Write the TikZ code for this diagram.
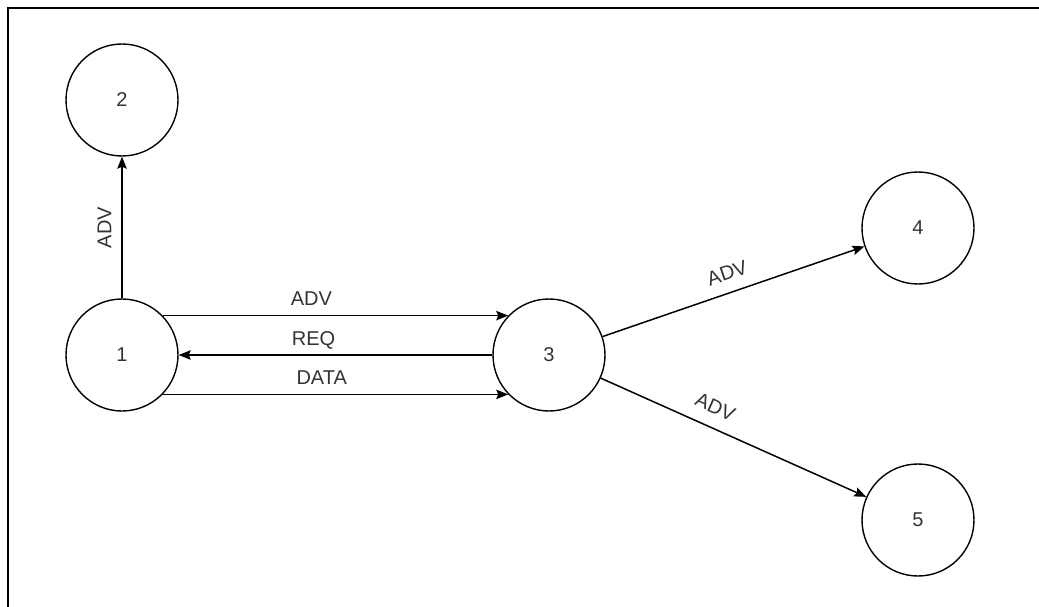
\documentclass[tikz,border=0pt]{standalone}
\usepackage{fontspec}
\setmainfont{Liberation Sans}
\usetikzlibrary{arrows.meta}
\begin{document}
\begin{tikzpicture}[x=1pt,y=-1pt,
  nd/.style={circle,draw=black,line width=1.4pt,minimum size=112pt,inner sep=0pt,font=\fontsize{20}{24}\selectfont,text=black!80},
  conn/.style={line width=1.5pt,draw=black,-{Stealth[length=12pt,width=9.5pt,inset=2pt]}},
  lbl/.style={font=\fontsize{20}{24}\selectfont,text=black!80,inner sep=0pt,text height=14.3pt,text depth=0pt}]
\useasboundingbox (0,0) rectangle (1039,607);
\draw[line width=2pt] (8,607) -- (8,8) -- (1039,8);
\node[nd] (n2) at (122,100) {2};
\node[nd] (n1) at (122,355) {1};
\node[nd] (n3) at (549,355) {3};
\node[nd] (n4) at (918,228) {4};
\node[nd] (n5) at (918,520) {5};
\draw[conn] (n1) -- node[lbl,midway,sloped,above=10pt] {ADV} (n2);
\draw[conn] (n1.44) -- node[lbl,pos=0.43,above=9pt] {ADV} (n3.136);
\draw[conn] (n3.west) -- node[lbl,pos=0.57,above=9pt] {REQ} (n1.east);
\draw[conn] (n1.-44) -- node[lbl,pos=0.46,above=9pt] {DATA} (n3.-136);
\draw[conn] (n3) -- node[lbl,midway,sloped,above=12pt] {ADV} (n4);
\draw[conn] (n3) -- node[lbl,pos=0.4,sloped,above=13pt] {ADV} (n5);
\end{tikzpicture}
\end{document}
